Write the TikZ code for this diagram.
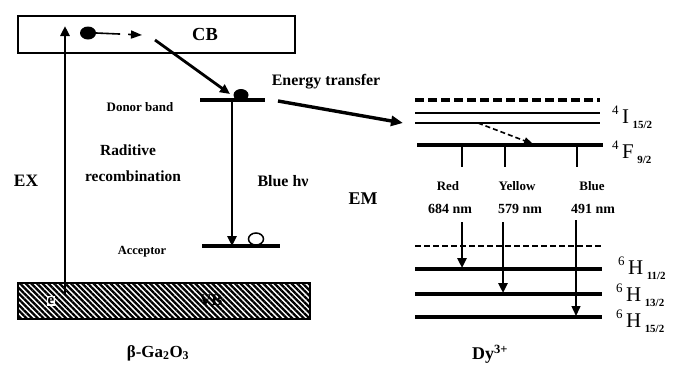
\documentclass[tikz,border=0pt]{standalone}
\usepackage{fontspec}
\setmainfont{Liberation Serif}
\usetikzlibrary{arrows.meta,patterns.meta,shapes.geometric}
\newcommand\levlab[3]{\raisebox{1.0ex}{\fontsize{13}{13}\selectfont #1}\,#2\,\raisebox{-0.5ex}{\bfseries\fontsize{11}{11}\selectfont #3}}
\begin{document}
\begin{tikzpicture}[x=1bp,y=-1bp,
  lbl/.style={font=\bfseries\fontsize{#1}{#1}\selectfont, inner sep=0pt},
  levtxt/.style={font=\fontsize{21}{21}\selectfont, inner sep=0pt, anchor=west},
  thk/.style={line width=3.4bp},
  med/.style={line width=2.8bp},
  thn/.style={line width=1.6bp},
  tip/.style={-{Triangle[length=10bp,width=9bp]}}
]
\useasboundingbox (0,0) rectangle (675,371);

% ---------- beta-Ga2O3 side ----------
\node[draw, line width=1.8bp, minimum width=277bp, minimum height=37bp, anchor=north west, inner sep=0pt] (cb) at (17,15) {};
\node[lbl=18.5] (cbt) at (205,34) {CB};
\node[draw, line width=2bp, pattern={Lines[angle=-45,distance=4bp,line width=2.3bp]}, minimum width=292bp, minimum height=36bp, anchor=north west, inner sep=0pt] (vb) at (17,282) {};
\node[lbl=16.5] (vbt) at (211,300) {VB};
\node[lbl=15, fill=white, inner sep=1bp] (el) at (51,301) {e};

\coordinate (exb) at (65,294);
\coordinate (ext) at (65,26);
\draw[med, tip] (exb) -- (ext);
\node[lbl=17.5] (ex) at (26,181) {EX};

\node[fill, ellipse, minimum width=16bp, minimum height=13bp, inner sep=0pt] (e1) at (88,33) {};
\coordinate (e1t) at (142,35);
\draw[thn, dash pattern=on 24bp off 8bp, -{Triangle[length=11bp,width=8bp]}] (e1.east) -- (e1t);

\coordinate (dl) at (200,100);
\coordinate (dr) at (265,100);
\node[fill, ellipse, minimum width=15bp, minimum height=12bp, inner sep=0pt] (e2) at (241,95) {};
\draw[thk] (dl) -- (dr);
\coordinate (diag0) at (155,40);
\draw[med, tip] (diag0) -- (230,94);
\node[lbl=13] (donor) at (140,107) {Donor band};

\coordinate (al) at (202,246);
\coordinate (ar) at (280,246);
\coordinate (dv0) at (232,100);
\coordinate (dv1) at (232,246);
\draw[med, tip] (dv0) -- (dv1);
\draw[thk] (al) -- (ar);
\node[draw, ellipse, line width=1.5bp, minimum width=15bp, minimum height=12bp, inner sep=0pt] (hole) at (256,239) {};
\node[lbl=12.5] (acc) at (142,252) {Acceptor};

\node[lbl=15.5] (rad1) at (128,150) {Raditive};
\node[lbl=15.5] (rad2) at (133,176) {recombination};
\node[lbl=16] (blue) at (283,181) {Blue hν};

\node[lbl=17] (ga) at (158,353) {β-Ga\textsubscript{2}O\textsubscript{3}};

% ---------- energy transfer ----------
\coordinate (et0) at (278,101);
\coordinate (et1) at (403,123);
\draw[thk, -{Triangle[length=12bp,width=10bp]}] (et0) -- (et1);
\node[lbl=16] (ett) at (326,82) {Energy transfer};

% ---------- Dy3+ side ----------
\draw[thk, dash pattern=on 9bp off 4bp] (415,100) coordinate (d1l) -- (600,100) coordinate (d1r);
\draw[thn] (415,113) coordinate (i1l) -- (600,113) coordinate (i1r);
\draw[thn] (415,123) coordinate (i2l) -- (600,123) coordinate (i2r);
\draw[line width=3.8bp] (417,145) coordinate (fl) -- (603,145) coordinate (fr);
\coordinate (da0) at (478,123);
\coordinate (da1) at (533,144);
\draw[thn, dash pattern=on 5bp off 3bp, -{Triangle[length=9bp,width=7bp]}] (da0) -- (da1);

\draw[med] (462,145) coordinate (t1a) -- (462,167) coordinate (t1b);
\draw[med] (505,145) coordinate (t2a) -- (505,167) coordinate (t2b);
\draw[line width=1.3bp] (577,145) coordinate (t3a) -- (577,167) coordinate (t3b);

\node[levtxt] (li) at (612,117) {\levlab{4}{I}{15/2}};
\node[levtxt] (lf) at (612,152) {\levlab{4}{F}{9/2}};

\node[lbl=18] (em) at (363,199) {EM};
\node[lbl=13] (red) at (448,186) {Red};
\node[lbl=13] (yel) at (517,186) {Yellow};
\node[lbl=13] (blu) at (592,186) {Blue};
\node[lbl=14] (r684) at (450,209) {684 nm};
\node[lbl=14] (y579) at (520,209) {579 nm};
\node[lbl=14] (b491) at (593,209) {491 nm};

\draw[line width=2bp, dash pattern=on 6bp off 3bp] (415,246) coordinate (d2l) -- (602,246) coordinate (d2r);
\draw[thk] (415,269) coordinate (h1l) -- (602,269) coordinate (h1r);
\draw[thk] (415,294) coordinate (h2l) -- (602,294) coordinate (h2r);
\draw[thk] (415,317) coordinate (h3l) -- (602,317) coordinate (h3r);

\coordinate (ra0) at (462,222);
\coordinate (ra1) at (462,268);
\coordinate (ya0) at (503,222);
\coordinate (ya1) at (503,293);
\coordinate (ba0) at (576,220);
\coordinate (ba1) at (576,316);
\draw[med, tip] (ra0) -- (ra1);
\draw[med, tip] (ya0) -- (ya1);
\draw[line width=1.4bp, tip] (ba0) -- (ba1);

\node[levtxt] (h11) at (618,268) {\levlab{6}{H}{11/2}};
\node[levtxt] (h13) at (616,295) {\levlab{6}{H}{13/2}};
\node[levtxt] (h15) at (616,321) {\levlab{6}{H}{15/2}};

\node[lbl=18] (dy) at (490,354) {Dy\textsuperscript{3+}};
\end{tikzpicture}
\end{document}
